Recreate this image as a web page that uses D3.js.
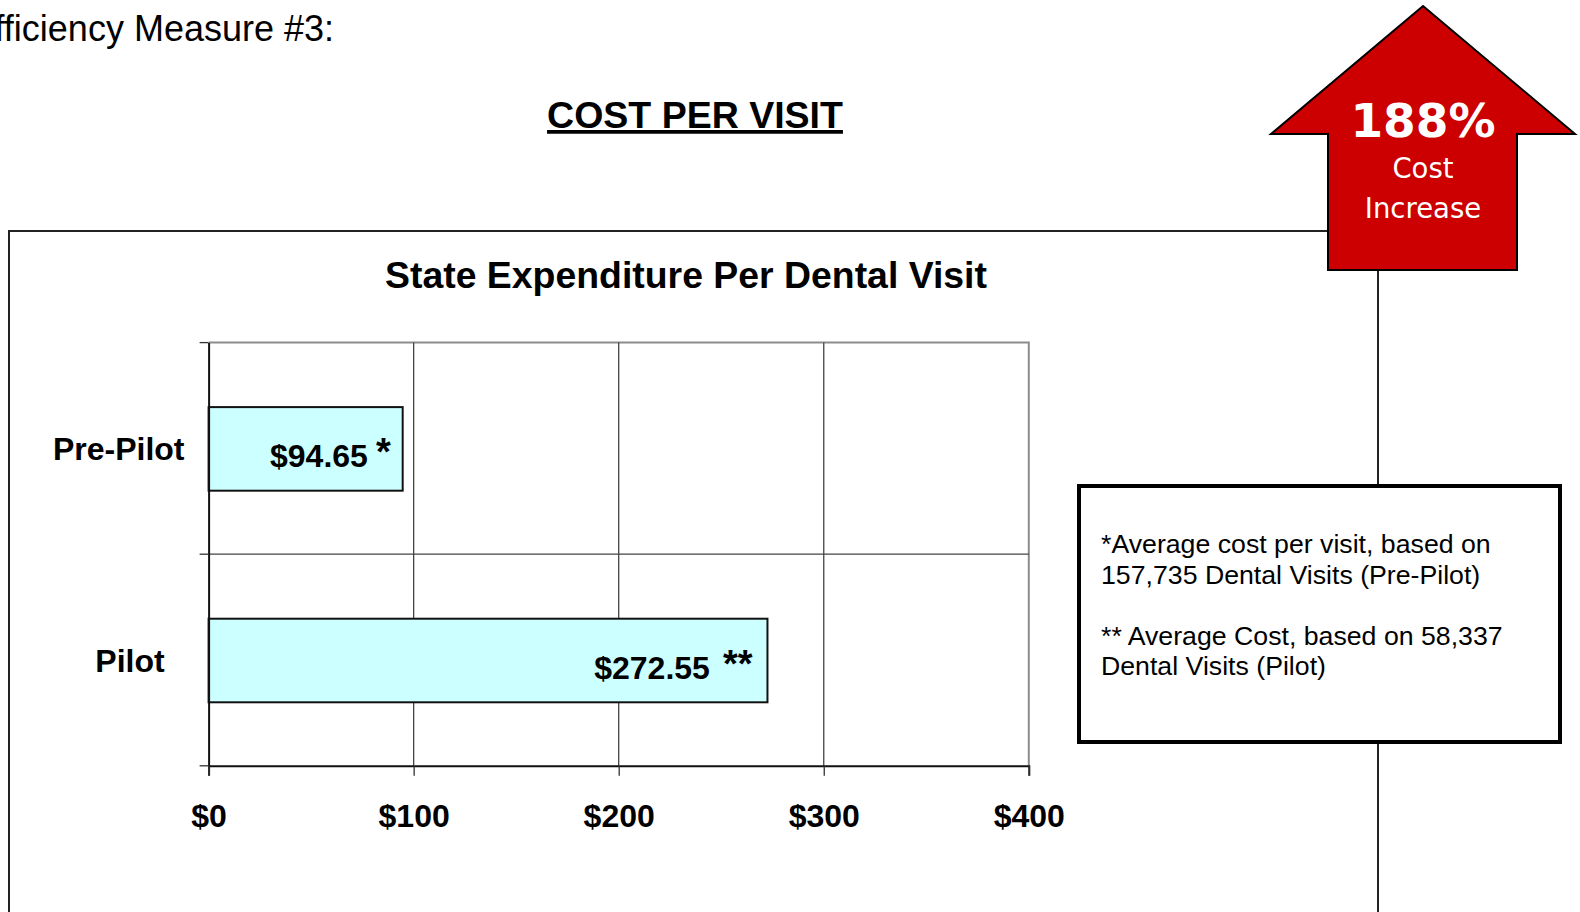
<!DOCTYPE html>
<html>
<head>
<meta charset="utf-8">
<script src="https://cdn.jsdelivr.net/npm/d3@7"></script>
<style>
  body { margin: 0; background: #fff; }
  svg { display: block; }
  text { font-family: "Liberation Sans", Arial, sans-serif; }
</style>
</head>
<body>
<div class="chart"></div>
<script>
// chart data
var categories = ["Pre-Pilot", "Pilot"];
var values = [94.65, 272.55];
var valueLabels = ["$94.65", "$272.55"];
var valueMarks = ["*", "**"];
var xTicks = [0, 100, 200, 300, 400];
var noteLines = [
    "*Average cost per visit, based on",
    "157,735 Dental Visits (Pre-Pilot)",
    "",
    "** Average Cost, based on 58,337",
    "Dental Visits (Pilot)"
];
var arrowLines = ["188%", "Cost", "Increase"];

function drawChart()
{
    var w = 1580;
    var h = 912;
    var barColor = "#CCFFFF";
    var svg = d3.select(".chart")
                .append("svg")
                .attr("width", w)
                .attr("height", h);

    // page heading (cut off at the left edge, as in the source page)
    svg.append("text")
        .attr("x", 334)
        .attr("y", 41)
        .attr("text-anchor", "end")
        .attr("font-size", 36)
        .text("Efficiency Measure #3:");

    svg.append("text")
        .attr("x", 695)
        .attr("y", 128)
        .attr("text-anchor", "middle")
        .attr("font-size", 37.5)
        .attr("font-weight", "bold")
        .attr("text-decoration", "underline")
        .text("COST PER VISIT");

    // outer chart frame
    svg.append("path")
        .attr("d", "M9,912 L9,231 L1378,231 L1378,912")
        .attr("fill", "none")
        .attr("stroke", "#222")
        .attr("stroke-width", 2);

    svg.append("text")
        .attr("x", 686)
        .attr("y", 288)
        .attr("text-anchor", "middle")
        .attr("font-size", 37.4)
        .attr("font-weight", "bold")
        .text("State Expenditure Per Dental Visit");

    var xScale = d3.scaleLinear()
        .domain([0, 400])
        .range([208.6, 1028.8]);
    var yScale = d3.scaleBand()
        .domain(categories)
        .range([342.6, 765.8])
        .padding(0);
    var top = yScale.range()[0], bottom = yScale.range()[1];
    var left = xScale.range()[0], right = xScale.range()[1];

    // plot area border (top + right)
    svg.append("path")
        .attr("d", "M" + left + "," + top + " L" + right + "," + top + " L" + right + "," + bottom)
        .attr("fill", "none")
        .attr("stroke", "#8c8c8c")
        .attr("stroke-width", 2);

    // vertical gridlines
    svg.selectAll(".vgrid")
        .data(xTicks.slice(1, -1))
        .enter()
        .append("line")
        .attr("class", "vgrid")
        .attr("x1", function(d){ return xScale(d); })
        .attr("x2", function(d){ return xScale(d); })
        .attr("y1", top)
        .attr("y2", bottom)
        .attr("stroke", "#444")
        .attr("stroke-width", 1.3);

    // horizontal category lines
    svg.selectAll(".hgrid")
        .data(categories.slice(1))
        .enter()
        .append("line")
        .attr("class", "hgrid")
        .attr("x1", left)
        .attr("x2", right)
        .attr("y1", function(d){ return yScale(d); })
        .attr("y2", function(d){ return yScale(d); })
        .attr("stroke", "#444")
        .attr("stroke-width", 1.3);

    // bars
    var barH = yScale.bandwidth() * 0.395;
    svg.selectAll(".bar")
        .data(values)
        .enter()
        .append("rect")
        .attr("class", "bar")
        .attr("x", xScale(0))
        .attr("y", function(d, i){ return yScale(categories[i]) + yScale.bandwidth()/2 - barH/2 + 0.5; })
        .attr("width", function(d){ return xScale(d) - xScale(0); })
        .attr("height", barH)
        .attr("fill", barColor)
        .attr("stroke", "#111")
        .attr("stroke-width", 2);

    var labels = svg.selectAll(".barlabel")
        .data(values)
        .enter()
        .append("text")
        .attr("class", "barlabel")
        .attr("x", function(d, i){ return xScale(d) - 12 - 3 * (valueMarks[i].length - 1); })
        .attr("y", function(d, i){ return yScale(categories[i]) + yScale.bandwidth()/2 + 19; })
        .attr("text-anchor", "end")
        .attr("font-size", 32)
        .attr("font-weight", "bold");
    labels.append("tspan")
        .text(function(d, i){ return valueLabels[i]; });
    labels.append("tspan")
        .attr("dx", function(d, i){ return 8 + 5 * (valueMarks[i].length - 1); })
        .attr("dy", -2)
        .attr("font-size", 38)
        .text(function(d, i){ return valueMarks[i]; });

    // axes
    var xAxis = d3.axisBottom(xScale)
        .tickValues(xTicks)
        .tickSize(10)
        .tickFormat(function(d){ return "$" + d; });
    var gx = svg.append("g")
        .attr("transform", "translate(0," + bottom + ")")
        .call(xAxis);
    gx.select(".domain").attr("stroke", "#111").attr("stroke-width", 2);
    gx.selectAll(".tick line").attr("stroke", "#333").attr("stroke-width", 1.3);
    gx.selectAll(".tick text")
        .attr("y", 61)
        .attr("dy", 0)
        .attr("fill", "#000")
        .attr("font-size", 32)
        .attr("font-weight", "bold")
        .style("font-family", "'Liberation Sans', Arial, sans-serif");

    var yAxis = d3.axisLeft(yScale)
        .tickValues([])
        .tickSizeOuter(0);
    var gy = svg.append("g")
        .attr("transform", "translate(" + left + ",0)")
        .call(yAxis);
    gy.select(".domain").attr("stroke", "#111").attr("stroke-width", 2);

    // ticks at category boundaries on left axis
    var bounds = categories.map(function(c){ return yScale(c); }).concat([bottom]);
    svg.selectAll(".ytick")
        .data(bounds)
        .enter()
        .append("line")
        .attr("class", "ytick")
        .attr("x1", left - 9)
        .attr("x2", left)
        .attr("y1", function(d){ return d; })
        .attr("y2", function(d){ return d; })
        .attr("stroke", "#333")
        .attr("stroke-width", 1.3);

    // category labels: centred in the label area, pushed left when too wide
    svg.selectAll(".catlabel")
        .data(categories)
        .enter()
        .append("text")
        .attr("class", "catlabel")
        .attr("y", function(d){ return yScale(d) + yScale.bandwidth()/2 + 12; })
        .attr("text-anchor", "middle")
        .attr("font-size", 32)
        .attr("font-weight", "bold")
        .text(function(d){ return d; })
        .attr("x", function(){
            var tw = this.getComputedTextLength();
            return Math.min(130, 184.5 - tw / 2);
        });

    // notes box
    svg.append("rect")
        .attr("x", 1079)
        .attr("y", 486)
        .attr("width", 481)
        .attr("height", 256)
        .attr("fill", "#fff")
        .attr("stroke", "#000")
        .attr("stroke-width", 4);

    svg.selectAll(".note")
        .data(noteLines)
        .enter()
        .append("text")
        .attr("class", "note")
        .attr("x", 1101)
        .attr("y", function(d, i){ return 553 + i * 30.6; })
        .attr("font-size", 26.7)
        .text(function(d){ return d; });

    // red arrow
    var arrow = [[1423, 6], [1575, 134], [1517, 134], [1517, 270], [1328, 270], [1328, 134], [1271, 134]];
    svg.append("path")
        .attr("d", d3.line()(arrow) + "Z")
        .attr("fill", "#CC0000")
        .attr("stroke", "#000")
        .attr("stroke-width", 2)
        .attr("stroke-linejoin", "miter");

    svg.selectAll(".arrowtext")
        .data(arrowLines)
        .enter()
        .append("text")
        .attr("class", "arrowtext")
        .attr("x", 1423)
        .attr("y", function(d, i){ return [137, 178, 218][i]; })
        .attr("text-anchor", "middle")
        .attr("fill", "#fff")
        .attr("font-size", function(d, i){ return i == 0 ? 47 : 27.5; })
        .attr("font-weight", function(d, i){ return i == 0 ? "bold" : "normal"; })
        .style("font-family", "'DejaVu Sans', Verdana, sans-serif")
        .text(function(d){ return d; });
}
drawChart();
</script>
</body>
</html>
